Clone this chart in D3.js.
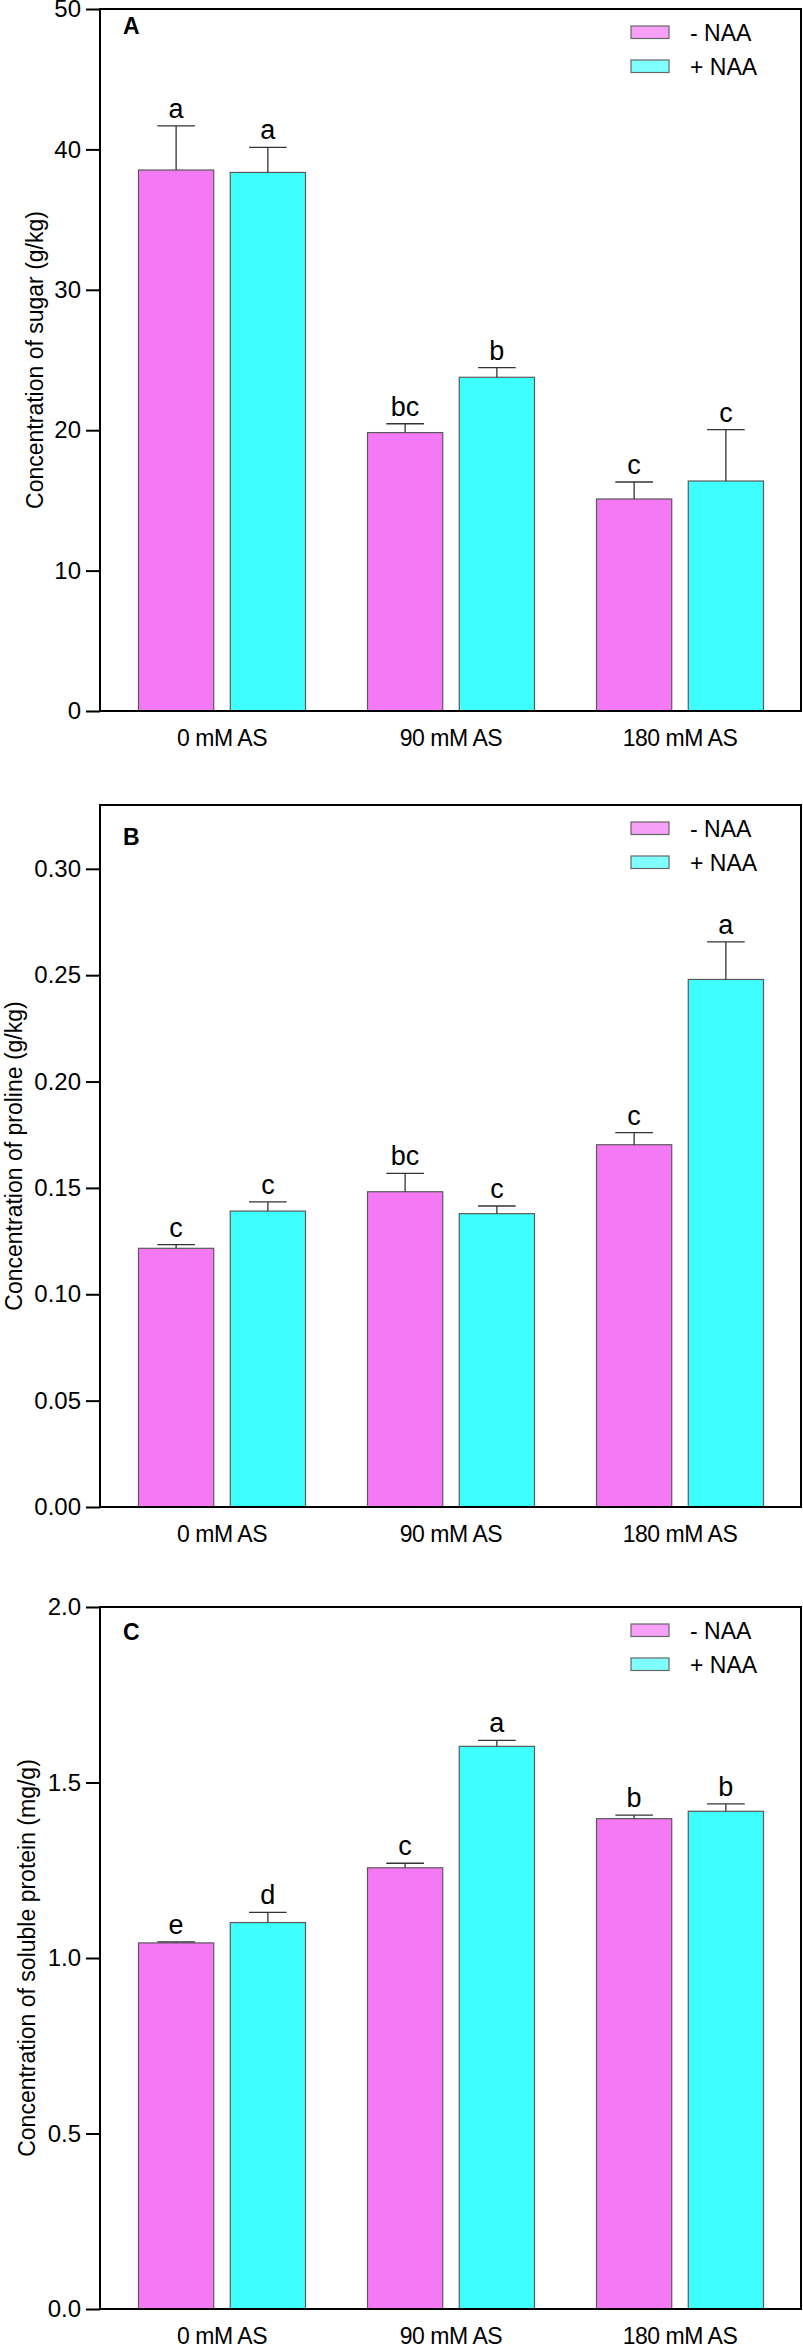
<!DOCTYPE html>
<html>
<head>
<meta charset="utf-8">
<script src="https://cdn.jsdelivr.net/npm/d3@7"></script>
<style>
  html, body { margin: 0; padding: 0; background: #fff; }
  svg { display: block; font-family: "Liberation Sans", Arial, Helvetica, sans-serif; }
</style>
</head>
<body>
<svg id="chart" width="803" height="2344"></svg>
<script>
// ---- data ----
var groups = ["0 mM AS", "90 mM AS", "180 mM AS"];
var treatments = ["- NAA", "+ NAA"];

// A · sugar (g/kg)
var sugarMinus = [38.53, 19.83, 15.10];
var sugarPlus = [38.36, 23.77, 16.38];
var sugarErrMinus = [3.14, 0.63, 1.21];
var sugarErrPlus = [1.79, 0.69, 3.66];
var sugarLetMinus = ["a", "bc", "c"];
var sugarLetPlus = ["a", "b", "c"];
var sugarTicks = [0, 10, 20, 30, 40, 50];

// B · proline (g/kg)
var prolMinus = [0.1216, 0.1482, 0.1703];
var prolPlus = [0.1391, 0.1379, 0.2480];
var prolErrMinus = [0.0017, 0.0086, 0.0057];
var prolErrPlus = [0.0043, 0.0036, 0.0177];
var prolLetMinus = ["c", "bc", "c"];
var prolLetPlus = ["c", "c", "a"];
var prolTicks = [0, 0.05, 0.10, 0.15, 0.20, 0.25, 0.30];

// C · soluble protein (mg/g)
var protMinus = [1.043, 1.257, 1.397];
var protPlus = [1.101, 1.603, 1.418];
var protErrMinus = [0.003, 0.013, 0.010];
var protErrPlus = [0.029, 0.017, 0.021];
var protLetMinus = ["e", "c", "b"];
var protLetPlus = ["d", "a", "b"];
var protTicks = [0, 0.5, 1.0, 1.5, 2.0];

var yTitles = [
  "Concentration of sugar (g/kg)",
  "Concentration of proline (g/kg)",
  "Concentration of soluble protein (mg/g)"
];

(function () {
  "use strict";

  var svg = d3.select("#chart");
  var L = 100, R = 801, PH = 702;
  var barFill = ["#f578f5", "#3ffefe"];
  var swatchFill = ["#f7a0f7", "#80ffff"];

  // group bands + bars within a group
  var x0 = d3.scaleBand().domain(groups).range([107.5, 794.5]);
  var x1 = d3.scaleBand().domain(treatments).range([31, 198]).paddingInner(0.18);

  var panels = [
    { tag: "A", title: yTitles[0], top: 9, ymax: 50, ticks: sugarTicks, fmt: d3.format("d"),
      mean: [sugarMinus, sugarPlus], err: [sugarErrMinus, sugarErrPlus], lets: [sugarLetMinus, sugarLetPlus],
      titleX: 43, tagY: 25 },
    { tag: "B", title: yTitles[1], top: 805, ymax: 0.33, ticks: prolTicks, fmt: d3.format(".2f"),
      mean: [prolMinus, prolPlus], err: [prolErrMinus, prolErrPlus], lets: [prolLetMinus, prolLetPlus],
      titleX: 22, tagY: 40 },
    { tag: "C", title: yTitles[2], top: 1607, ymax: 2.0, ticks: protTicks, fmt: d3.format(".1f"),
      mean: [protMinus, protPlus], err: [protErrMinus, protErrPlus], lets: [protLetMinus, protLetPlus],
      titleX: 35, tagY: 33 }
  ];

  panels.forEach(function (p) {
    var g = svg.append("g");
    var y = d3.scaleLinear().domain([0, p.ymax]).range([p.top + PH, p.top]);

    // ---- bars (one row per group x treatment) ----
    var rows = [];
    groups.forEach(function (grp, gi) {
      treatments.forEach(function (tr, ti) {
        rows.push({ grp: grp, tr: tr, ti: ti, v: p.mean[ti][gi], e: p.err[ti][gi], l: p.lets[ti][gi] });
      });
    });

    g.append("g").selectAll("rect").data(rows).enter().append("rect")
      .attr("x", function (d) { return x0(d.grp) + x1(d.tr); })
      .attr("y", function (d) { return y(d.v); })
      .attr("width", x1.bandwidth())
      .attr("height", function (d) { return y(0) - y(d.v); })
      .attr("fill", function (d) { return barFill[d.ti]; })
      .attr("stroke", "#5a5a5a")
      .attr("stroke-width", 1.2);

    // ---- error bars (upper whisker only) ----
    var cx = function (d) { return x0(d.grp) + x1(d.tr) + x1.bandwidth() / 2; };
    var eg = g.append("g").attr("stroke", "#333").attr("stroke-width", 1.3);
    eg.selectAll("line.v").data(rows).enter().append("line").attr("class", "v")
      .attr("x1", cx).attr("x2", cx)
      .attr("y1", function (d) { return y(d.v); })
      .attr("y2", function (d) { return y(d.v + d.e); });
    eg.selectAll("line.c").data(rows).enter().append("line").attr("class", "c")
      .attr("x1", function (d) { return cx(d) - x1.bandwidth() / 4; })
      .attr("x2", function (d) { return cx(d) + x1.bandwidth() / 4; })
      .attr("y1", function (d) { return y(d.v + d.e); })
      .attr("y2", function (d) { return y(d.v + d.e); });

    // significance letters
    g.append("g").selectAll("text").data(rows).enter().append("text")
      .attr("x", cx)
      .attr("y", function (d) { return y(d.v + d.e) - 8; })
      .attr("text-anchor", "middle")
      .attr("font-size", 27)
      .attr("fill", "#000")
      .text(function (d) { return d.l; });

    // ---- frame + y axis ----
    g.append("rect")
      .attr("x", L).attr("y", p.top).attr("width", R - L).attr("height", PH)
      .attr("fill", "none").attr("stroke", "#000").attr("stroke-width", 2);

    var ax = g.append("g")
      .attr("transform", "translate(" + L + ",0)")
      .call(d3.axisLeft(y).tickValues(p.ticks).tickFormat(p.fmt).tickSize(14).tickPadding(5));
    ax.select(".domain").remove();
    ax.selectAll(".tick line").attr("stroke", "#000").attr("stroke-width", 2);
    ax.selectAll(".tick text")
      .attr("font-family", "\"Liberation Sans\", Arial, sans-serif")
      .attr("font-size", 24).attr("fill", "#000");

    // category labels
    g.append("g").selectAll("text").data(groups).enter().append("text")
      .attr("x", function (d) { return x0(d) + x0.bandwidth() / 2; })
      .attr("y", y(0) + 35)
      .attr("text-anchor", "middle")
      .attr("font-size", 23)
      .style("letter-spacing", "-0.02em")
      .text(function (d) { return d; });

    // y title
    g.append("text")
      .attr("transform", "translate(" + p.titleX + "," + (p.top + PH / 2) + ") rotate(-90)")
      .attr("text-anchor", "middle")
      .attr("font-size", 23)
      .text(p.title);

    // panel tag
    g.append("text")
      .attr("x", 123).attr("y", p.top + p.tagY)
      .attr("font-size", 23).attr("font-weight", "bold")
      .text(p.tag);

    // ---- legend ----
    var lg = g.append("g");
    treatments.forEach(function (tr, i) {
      lg.append("rect")
        .attr("x", 631).attr("y", p.top + 17 + i * 34)
        .attr("width", 38).attr("height", 12.5)
        .attr("fill", swatchFill[i]).attr("stroke", "#666").attr("stroke-width", 1.2);
      lg.append("text")
        .attr("x", 690).attr("y", p.top + 32 + i * 34)
        .attr("font-size", 23)
        .text(tr);
    });
  });
})();
</script>
</body>
</html>
